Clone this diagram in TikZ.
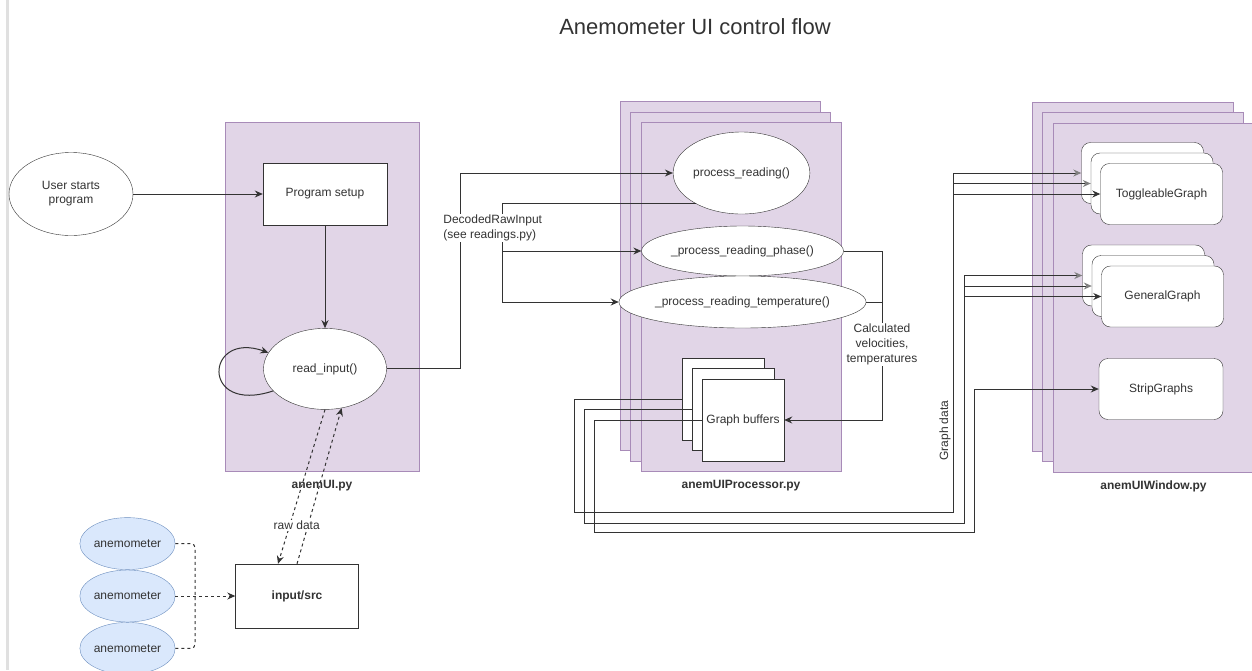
\documentclass[tikz,border=0pt]{standalone}
\usepackage{fontspec}
\setmainfont{Liberation Sans}
\usepackage{tikz}
\usetikzlibrary{arrows.meta,positioning,shapes.geometric,calc}
\definecolor{panelfill}{HTML}{E1D5E7}
\definecolor{panelline}{HTML}{A88BB8}
\definecolor{sensorfill}{HTML}{DAE8FC}
\definecolor{sensorline}{HTML}{6C8EBF}
\definecolor{ink}{HTML}{333333}

\begin{document}
\begin{tikzpicture}[
    x=1pt, y=-1pt,
    box/.style={draw=ink, fill=white, align=center, inner sep=2pt, text=ink, font=\fontsize{12}{14}\selectfont},
    oval/.style={box, ellipse, inner sep=0pt},
    gbox/.style={box, rounded corners=9pt, minimum width=122pt, minimum height=61pt},
    bufbox/.style={box, minimum width=82pt, minimum height=82pt},
    panel/.style={draw=panelline, fill=panelfill, inner sep=0pt, minimum width=200pt, minimum height=349pt},
    sensor/.style={ellipse, draw=sensorline, fill=sensorfill, inner sep=0pt, minimum width=72pt, minimum height=52pt, text=ink, font=\fontsize{12}{14}\selectfont},
    modlabel/.style={inner sep=0pt, text=ink, font=\bfseries\fontsize{12}{14}\selectfont},
    lbl/.style={fill=white, inner sep=1pt, text=ink, font=\fontsize{12}{15}\selectfont},
    link/.style={draw=ink, line width=1pt},
    arrow/.style={link, -{Stealth[length=8pt, width=7pt]}},
    farrow/.style={link, -{Stealth[length=8pt, width=7pt, color=black!50]}},
    dasharrow/.style={arrow, dash pattern=on 3pt off 3pt},
    dashlink/.style={link, dash pattern=on 3pt off 3pt}
]

% ===== PAGE =====
\fill[white] (0,0) rectangle (1252,670);
\useasboundingbox (0,0) rectangle (1252,670);
\draw[line width=3pt, black!12] (7,0) -- (7,670);
\node[text=ink, font=\fontsize{22}{26}\selectfont] (title) at (695,27) {Anemometer UI control flow};

% ===== anemUI.py =====
\node[panel, minimum width=194pt] (uipanel) at (322,296.5) {};
\node[modlabel, below=9pt of uipanel] (uilbl) {anemUI.py};
\node[oval, minimum width=124pt, minimum height=83pt] (user) at (71,194) {User starts\\program};
\node[box, minimum width=124pt, minimum height=62pt] (setup) at (325,194) {Program setup};
\node[oval, below=103pt of setup, minimum width=123pt, minimum height=81pt] (read) {read\_input()};

% ===== INPUT =====
\node[box, font=\bfseries\fontsize{12}{14}\selectfont, minimum width=123pt, minimum height=64pt] (src) at (297,596) {input/src};
\node[sensor] (anem2) at (127.5,596) {anemometer};
\node[sensor, above=0pt of anem2] (anem1) {anemometer};
\node[sensor, below=0pt of anem2] (anem3) {anemometer};
\coordinate (join) at (195,596);

% ===== anemUIProcessor.py =====
\node[panel] (proc1) at (720,276) {};
\node[panel, xshift=10.5pt, yshift=-10.5pt] (proc2) at (proc1) {};
\node[panel, xshift=10.5pt, yshift=-10.5pt] (proc3) at (proc2) {};
\node[modlabel, below=8pt of proc3] (proclbl) {anemUIProcessor.py};
\node[oval, minimum width=123pt, minimum height=82pt] (proc) at (741.5,173) {process\_reading()};
\node[oval, minimum width=195pt, minimum height=50pt] (phase) at (742.5,251) {\_process\_reading\_phase()};
\node[oval, minimum width=195pt, minimum height=52pt] (temp) at (742.5,302) {\_process\_reading\_temperature()};
\node[bufbox] (buf1) at (723,399) {};
\node[bufbox, xshift=10pt, yshift=-10.5pt] (buf2) at (buf1) {};
\node[bufbox, xshift=10pt, yshift=-10.5pt] (buf3) at (buf2) {Graph buffers};
\coordinate (split) at (502,251);
\coordinate (merge) at (882,302);

% ===== anemUIWindow.py =====
\node[panel, minimum width=201pt] (win1) at (1132.5,276.5) {};
\node[panel, minimum width=201pt, xshift=10.5pt, yshift=-10.5pt] (win2) at (win1) {};
\node[panel, minimum width=201pt, xshift=10.5pt, yshift=-10.5pt] (win3) at (win2) {};
\node[modlabel, below=8pt of win3] (winlbl) {anemUIWindow.py};
\node[gbox] (tg1) at (1142.5,173) {};
\node[gbox, xshift=9.5pt, yshift=-10.5pt] (tg2) at (tg1) {};
\node[gbox, xshift=9.5pt, yshift=-10.5pt] (tg3) at (tg2) {ToggleableGraph};
\node[gbox] (gen1) at (1143.5,275.5) {};
\node[gbox, xshift=9.5pt, yshift=-10.5pt] (gen2) at (gen1) {};
\node[gbox, xshift=9.5pt, yshift=-10.5pt] (gen3) at (gen2) {GeneralGraph};
\node[gbox, minimum width=124pt] (strip) at (1161,389) {StripGraphs};
\coordinate (gb1) at (574,512);
\coordinate (gd1) at (953,512);
\coordinate (gb2) at (584,523);
\coordinate (gd2) at (964,523);
\coordinate (gb3) at (594,532);
\coordinate (gd3) at (974,532);

% ===== CONNECTORS =====
\draw[arrow] (user) -- (setup);
\draw[arrow] (setup) -- (read);
\draw[arrow] (read.203) .. controls (200,415) and (205,330) .. (read.164);

\draw[dasharrow] (src.north) -- (read.293);
\draw[dasharrow] (read.south) -- node[lbl, pos=0.75, xshift=7pt] {raw data} ($(src.north)+(-19,0)$);
\draw[dashlink, rounded corners=4pt] (anem1.east) -| (join);
\draw[dashlink, rounded corners=4pt] (anem3.east) -| (join);
\draw[dasharrow] (anem2) -- (src);

\draw[arrow] (proc.214) -| (split) -- (phase.west);
\draw[arrow] (split) |- (temp.west);
\draw[arrow] (read.east) -- ++(74,0) |- node[lbl, pos=0.36, xshift=32pt, align=left] {DecodedRawInput\\(see readings.py)} (proc.west);

\draw[link] (temp.east) -- (merge);
\draw[arrow] (phase.east) -| (merge) |- node[lbl, pos=0.18, align=center] {Calculated\\velocities,\\temperatures} (buf3.east);

% ===== GRAPH DATA =====
\draw[farrow] (buf1.west) -| (gb1) -- (gd1) |- node[pos=0.12, rotate=90, anchor=south, inner sep=2pt, text=ink, font=\fontsize{12}{14}\selectfont] {Graph data} (tg1.west);
\draw[farrow] (tg2.west -| gd1) -- (tg2.west);
\draw[arrow] (tg3.west -| gd1) -- (tg3.west);
\draw[farrow] (buf2.west) -| (gb2) -- (gd2) |- (gen1.west);
\draw[farrow] (gen2.west -| gd2) -- (gen2.west);
\draw[arrow] (gen3.west -| gd2) -- (gen3.west);
\draw[arrow] (buf3.west) -| (gb3) -- (gd3) |- (strip.west);

\end{tikzpicture}
\end{document}
